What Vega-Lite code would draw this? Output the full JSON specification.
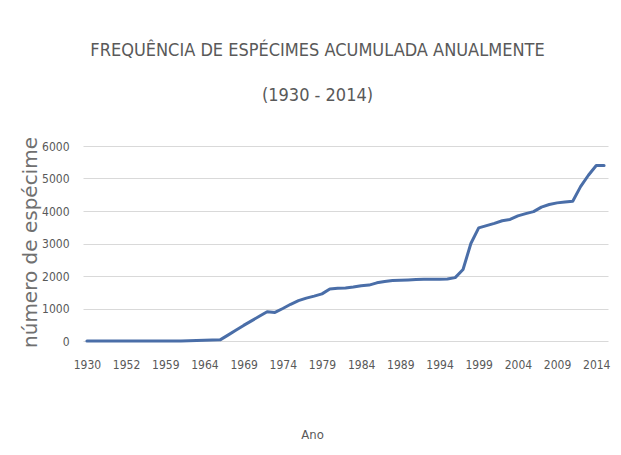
{
  "$schema": "https://vega.github.io/schema/vega-lite/v6.json",
  "autosize": {"type": "none"},
  "width": 525,
  "height": 195,
  "padding": {"left": 83, "top": 146, "right": 13, "bottom": 114},
  "background": "#ffffff",
  "title": {
    "text": ["FREQUÊNCIA DE ESPÉCIMES ACUMULADA  ANUALMENTE", "(1930 - 2014)"],
    "font": "Liberation Sans Narrow, DejaVu Sans Condensed, sans-serif",
    "fontSize": 18,
    "fontWeight": "normal",
    "color": "#595959",
    "lineHeight": 45,
    "anchor": "middle",
    "dx": -28,
    "offset": 32
  },
  "config": {
    "view": {"stroke": null},
    "axis": {
      "labelFont": "Liberation Sans Narrow, DejaVu Sans Condensed, sans-serif",
      "labelFontSize": 12,
      "labelColor": "#595959",
      "titleColor": "#595959",
      "titleFontWeight": "normal",
      "gridColor": "#d9d9d9",
      "gridWidth": 1,
      "domain": false,
      "ticks": false
    }
  },
  "data": {
    "values": [
      {"ano": "1930", "n": 0}, {"ano": "1935", "n": 0}, {"ano": "1940", "n": 0},
      {"ano": "1945", "n": 0}, {"ano": "1950", "n": 0}, {"ano": "1952", "n": 0},
      {"ano": "1954", "n": 0}, {"ano": "1955", "n": 0}, {"ano": "1956", "n": 0},
      {"ano": "1958", "n": 0}, {"ano": "1959", "n": 0}, {"ano": "1960", "n": 0},
      {"ano": "1961", "n": 0}, {"ano": "1962", "n": 5}, {"ano": "1963", "n": 15},
      {"ano": "1964", "n": 25}, {"ano": "1965", "n": 30}, {"ano": "1966", "n": 35},
      {"ano": "1967", "n": 180}, {"ano": "1968", "n": 330}, {"ano": "1969", "n": 480},
      {"ano": "1970", "n": 620}, {"ano": "1971", "n": 760}, {"ano": "1972", "n": 900},
      {"ano": "1973", "n": 880}, {"ano": "1974", "n": 1000}, {"ano": "1975", "n": 1130},
      {"ano": "1976", "n": 1240}, {"ano": "1977", "n": 1320}, {"ano": "1978", "n": 1380},
      {"ano": "1979", "n": 1450}, {"ano": "1980", "n": 1600}, {"ano": "1981", "n": 1620},
      {"ano": "1982", "n": 1630}, {"ano": "1983", "n": 1660}, {"ano": "1984", "n": 1700},
      {"ano": "1985", "n": 1720}, {"ano": "1986", "n": 1790}, {"ano": "1987", "n": 1830},
      {"ano": "1988", "n": 1860}, {"ano": "1989", "n": 1870}, {"ano": "1990", "n": 1880},
      {"ano": "1991", "n": 1890}, {"ano": "1992", "n": 1900}, {"ano": "1993", "n": 1900},
      {"ano": "1994", "n": 1900}, {"ano": "1995", "n": 1910}, {"ano": "1996", "n": 1950},
      {"ano": "1997", "n": 2200}, {"ano": "1998", "n": 3000}, {"ano": "1999", "n": 3480},
      {"ano": "2000", "n": 3550}, {"ano": "2001", "n": 3620}, {"ano": "2002", "n": 3700},
      {"ano": "2003", "n": 3740}, {"ano": "2004", "n": 3850}, {"ano": "2005", "n": 3920},
      {"ano": "2006", "n": 3980}, {"ano": "2007", "n": 4120}, {"ano": "2008", "n": 4200},
      {"ano": "2009", "n": 4250}, {"ano": "2010", "n": 4280}, {"ano": "2011", "n": 4300},
      {"ano": "2012", "n": 4750}, {"ano": "2013", "n": 5100}, {"ano": "2014", "n": 5400},
      {"ano": "2015", "n": 5400}
    ]
  },
  "mark": {"type": "line", "color": "#4a6ea8", "strokeWidth": 3, "strokeJoin": "round", "strokeCap": "round"},
  "encoding": {
    "x": {
      "field": "ano",
      "type": "ordinal",
      "sort": null,
      "scale": {"type": "point", "padding": 0.5},
      "axis": {
        "title": "Ano",
        "titleFont": "Liberation Sans Narrow, DejaVu Sans Condensed, sans-serif",
        "titleFontSize": 13,
        "titlePadding": 58,
        "titleX": 229,
        "values": ["1930", "1952", "1959", "1964", "1969", "1974", "1979", "1984", "1989", "1994", "1999", "2004", "2009", "2014"],
        "labelAngle": 0,
        "labelPadding": 18,
        "grid": false
      }
    },
    "y": {
      "field": "n",
      "type": "quantitative",
      "scale": {"domain": [0, 6000]},
      "axis": {
        "title": "número de espécime",
        "titleFont": "DejaVu Sans, sans-serif",
        "titleFontSize": 20,
        "titleColor": "#707070",
        "titlePadding": 1,
        "titleY": 96,
        "format": "d",
        "values": [0, 1000, 2000, 3000, 4000, 5000, 6000],
        "labelPadding": 14,
        "grid": true
      }
    }
  }
}
